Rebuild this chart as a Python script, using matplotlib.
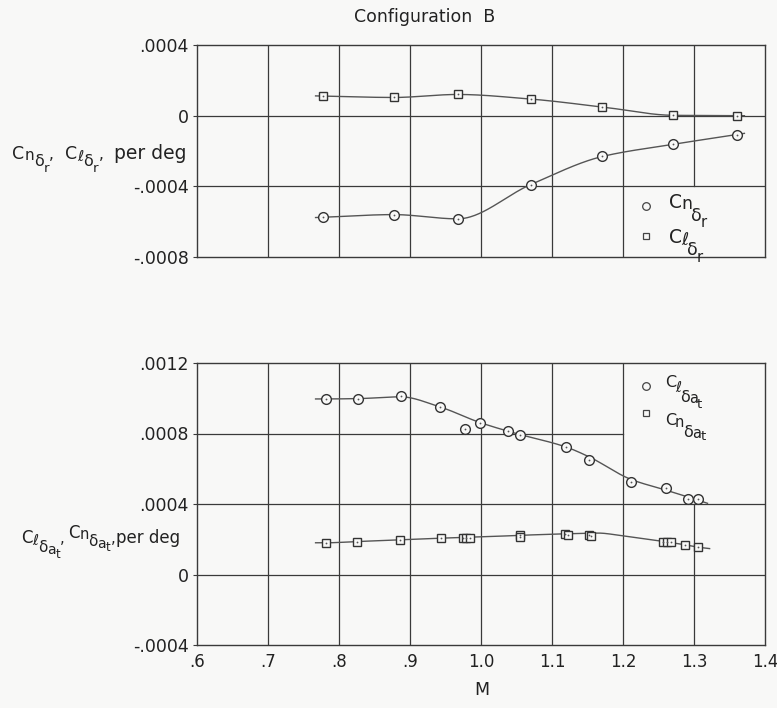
import numpy as np
import matplotlib
matplotlib.use("Agg")
import matplotlib.pyplot as plt

plt.rcParams['font.family'] = ['DejaVu Sans']

# ---- Rudder effectiveness (upper panel) ----
mach_r = [0.778, 0.877, 0.967, 1.070, 1.171, 1.271, 1.360]
cn_dr = [-0.000575, -0.000560, -0.000584, -0.000390, -0.000231, -0.000162, -0.000107]
cl_dr = [0.000111, 0.000103, 0.000120, 0.000094, 0.000049, 0.000002, 0.000000]

# ---- Tip-aileron effectiveness (lower panel) ----
mach_cl_at = [0.7815, 0.827, 0.887, 0.942, 0.978, 0.998, 1.038, 1.055,
              1.120, 1.152, 1.211, 1.261, 1.291, 1.305]
cl_dat = [0.000996, 0.000996, 0.001013, 0.000951, 0.000826, 0.000857, 0.000813,
          0.000792, 0.000723, 0.000647, 0.000523, 0.000492, 0.000428, 0.000428]

mach_cn_at = [0.7815, 0.826, 0.886, 0.943, 0.974, 0.979, 0.984, 1.055, 1.055,
              1.119, 1.122, 1.152, 1.155, 1.257, 1.262, 1.267, 1.288, 1.306]
cn_dat = [0.000179, 0.000187, 0.000198, 0.000208, 0.000208, 0.000208, 0.000208,
          0.000222, 0.000212, 0.000228, 0.000224, 0.000226, 0.000221,
          0.000183, 0.000183, 0.000183, 0.000168, 0.000155]

# faired curves for the lower panel
fair_cl_m = [0.767, 0.7815, 0.827, 0.887, 0.942, 0.998, 1.045, 1.120, 1.152,
             1.211, 1.261, 1.298, 1.319]
fair_cl_v = [0.000996, 0.000996, 0.000998, 0.001008, 0.000951, 0.000863, 0.000805,
             0.000723, 0.000668, 0.000540, 0.000478, 0.000432, 0.000404]
fair_cn_m = [0.767, 0.7815, 0.826, 0.886, 0.943, 1.000, 1.060, 1.120, 1.165,
             1.200, 1.253, 1.288, 1.306, 1.322]
fair_cn_v = [0.000180, 0.000180, 0.000187, 0.000197, 0.000206, 0.000213, 0.000223,
             0.000231, 0.000235, 0.000219, 0.000190, 0.000168, 0.000155, 0.000147]

x_ticks = [0.6, 0.7, 0.8, 0.9, 1.0, 1.1, 1.2, 1.3, 1.4]
x_tick_labels = ['.6', '.7', '.8', '.9', '1.0', '1.1', '1.2', '1.3', '1.4']
top_y_ticks = [-0.0008, -0.0004, 0.0, 0.0004]
top_y_labels = ['-.0008', '-.0004', '0', '.0004']
bot_y_ticks = [-0.0004, 0.0, 0.0004, 0.0008, 0.0012]
bot_y_labels = ['-.0004', '0', '.0004', '.0008', '.0012']


def pchip(x, y, xs):
    x = np.asarray(x, float)
    y = np.asarray(y, float)
    h = np.diff(x)
    d = np.diff(y) / h
    n = len(x)
    m = np.zeros(n)
    m[0], m[-1] = d[0], d[-1]
    for k in range(1, n - 1):
        if d[k - 1] * d[k] <= 0:
            m[k] = 0.0
        else:
            w1 = 2 * h[k] + h[k - 1]
            w2 = h[k] + 2 * h[k - 1]
            m[k] = (w1 + w2) / (w1 / d[k - 1] + w2 / d[k])
    out = np.empty_like(xs)
    for i, xv in enumerate(xs):
        if xv <= x[0]:
            out[i] = y[0] + m[0] * (xv - x[0])
            continue
        if xv >= x[-1]:
            out[i] = y[-1] + m[-1] * (xv - x[-1])
            continue
        k = np.searchsorted(x, xv) - 1
        t = (xv - x[k]) / h[k]
        h00 = 2 * t**3 - 3 * t**2 + 1
        h10 = t**3 - 2 * t**2 + t
        h01 = -2 * t**3 + 3 * t**2
        h11 = t**3 - t**2
        out[i] = h00 * y[k] + h10 * h[k] * m[k] + h01 * y[k + 1] + h11 * h[k] * m[k + 1]
    return out


W, H = 777, 708
BG = '#f8f8f7'
fig = plt.figure(figsize=(W / 100, H / 100), dpi=100)
fig.patch.set_facecolor(BG)
renderer = fig.canvas.get_renderer()

GRID = '#3a3a3a'
CURVE = '#555555'
INK = '#222222'


def lettered(x_px, y_px, pieces, color=INK, gap=-1.0):
    """Hand-lettered symbol: pieces of (text, size, baseline drop in px)."""
    x = x_px
    for s, size, dy in pieces:
        if s == ' ':
            x += size
            continue
        t = fig.text(x / W, 1 - (y_px + dy) / H, s, fontsize=size, ha='left',
                     va='baseline', color=color)
        x += t.get_window_extent(renderer).width + gap
    return x


def frame(ax, yticks, ylabels, ylim, mask_box):
    ax.set_facecolor(BG)
    ax.set_xlim(0.6, 1.4)
    ax.set_ylim(*ylim)
    ax.set_xticks(x_ticks)
    ax.set_yticks(yticks)
    ax.set_yticklabels(ylabels, fontsize=12.5, color=INK)
    ax.tick_params(direction='out', length=3, width=0.8, color=GRID, pad=3)
    for s in ax.spines.values():
        s.set_color(GRID)
        s.set_linewidth(1.0)
    # grid lines, left open where the key sits
    mx0, mx1, my0, my1 = mask_box
    for xv in x_ticks[1:-1]:
        if mx0 < xv < mx1:
            if my0 > ylim[0]:
                ax.plot([xv, xv], [ylim[0], my0], color=GRID, lw=0.9, zorder=1)
            if my1 < ylim[1]:
                ax.plot([xv, xv], [my1, ylim[1]], color=GRID, lw=0.9, zorder=1)
        else:
            ax.plot([xv, xv], ylim, color=GRID, lw=0.9, zorder=1)
    for yv in yticks[1:-1]:
        if my0 < yv < my1:
            ax.plot([0.6, mx0], [yv, yv], color=GRID, lw=0.9, zorder=1)
        else:
            ax.plot([0.6, 1.4], [yv, yv], color=GRID, lw=0.9, zorder=1)


def points(ax, m, v, marker, size):
    ax.plot(m, v, linestyle='none', marker=marker, ms=size, mfc=BG,
            mec='#333333', mew=1.0, zorder=4)
    ax.plot(m, v, linestyle='none', marker='o', ms=1.3, mfc='#555555',
            mec='none', zorder=5)


# ---------------- upper panel ----------------
ax1 = fig.add_axes([197 / W, 1 - 257 / H, 568 / W, 212 / H])
frame(ax1, top_y_ticks, top_y_labels, (-0.0008, 0.0004), (1.2, 1.4, -0.0008, -0.0004))
ax1.set_xticklabels([])
ax1.tick_params(axis='x', length=0)

xs = np.linspace(0.767, 1.371, 300)
ax1.plot(xs, pchip(mach_r, cn_dr, xs), color=CURVE, lw=1.0, zorder=3)
ax1.plot(xs, pchip(mach_r, cl_dr, xs), color=CURVE, lw=1.0, zorder=3)
points(ax1, mach_r, cn_dr, 'o', 7.0)
points(ax1, mach_r, cl_dr, 's', 6.0)

# key
ax1.plot([1.232], [-0.000512], marker='o', ms=5.5, mfc='none', mec='#444444', mew=0.9)
ax1.plot([1.232], [-0.000682], marker='s', ms=5.0, mfc='none', mec='#444444', mew=0.9)
lettered(669, 208, [('C', 13.5, 0), ('n', 12.5, 1), ('δ', 12.5, 13), ('r', 10.5, 19)])
lettered(669, 243, [('C', 13.5, 0), ('ℓ', 12.5, 2), ('δ', 12.5, 12), ('r', 10.5, 19)])

fig.text(425 / W, 1 - 17 / H, 'Configuration  B', fontsize=12.5, ha='center',
         va='center', color=INK)
lettered(12, 159, [('C', 12.5, 0), ('n', 11, 1), ('δ', 11.5, 7), ('r', 9.5, 13),
                   (',', 11, 0), (' ', 11, 0),
                   ('C', 12.5, 0), ('ℓ', 11, 2), ('δ', 11.5, 7), ('r', 9.5, 13),
                   (',', 11, 0), (' ', 11, 0), ('per deg', 13.5, 0)], gap=0.0)

# ---------------- lower panel ----------------
ax2 = fig.add_axes([197 / W, 1 - 645 / H, 568 / W, 282 / H])
frame(ax2, bot_y_ticks, bot_y_labels, (-0.0004, 0.0012), (1.2, 1.4, 0.0004, 0.0012))
ax2.set_xticklabels(x_tick_labels, fontsize=12, color=INK)
ax2.tick_params(axis='x', length=0, pad=6)

xs = np.linspace(fair_cl_m[0], fair_cl_m[-1], 300)
ax2.plot(xs, pchip(fair_cl_m, fair_cl_v, xs), color=CURVE, lw=1.0, zorder=3)
xs = np.linspace(fair_cn_m[0], fair_cn_m[-1], 300)
ax2.plot(xs, pchip(fair_cn_m, fair_cn_v, xs), color=CURVE, lw=1.0, zorder=3)
points(ax2, mach_cl_at, cl_dat, 'o', 7.0)
points(ax2, mach_cn_at, cn_dat, 's', 6.0)

ax2.plot([1.232], [0.001071], marker='o', ms=5.5, mfc='none', mec='#444444', mew=0.9)
ax2.plot([1.232], [0.000916], marker='s', ms=5.0, mfc='none', mec='#444444', mew=0.9)
lettered(665, 387, [('C', 11.5, 0), ('ℓ', 10.5, 5), ('δ', 11.5, 15), ('a', 10.5, 16),
                    ('t', 9.5, 21)])
lettered(665, 425, [('C', 11.5, 0), ('n', 10.5, 2), ('δ', 11.5, 12), ('a', 10.5, 13),
                    ('t', 9.5, 15)])

lettered(21, 543, [('C', 12, 0), ('ℓ', 10.5, 2), ('δ', 11, 9), ('a', 10, 11), ('t', 8.5, 15),
                   (',', 10.5, 0), (' ', 4, 0),
                   ('C', 12, -5), ('n', 10.5, -4), ('δ', 11, 3), ('a', 10, 5), ('t', 8.5, 8),
                   (' ', 1, 0), (',', 10.5, 0), ('per deg', 12, 0)], gap=-0.3)
fig.text(482 / W, 1 - 690 / H, 'M', fontsize=12.5, ha='center', va='center',
         color=INK)

fig.savefig('out.png', dpi=100, facecolor=fig.get_facecolor())
